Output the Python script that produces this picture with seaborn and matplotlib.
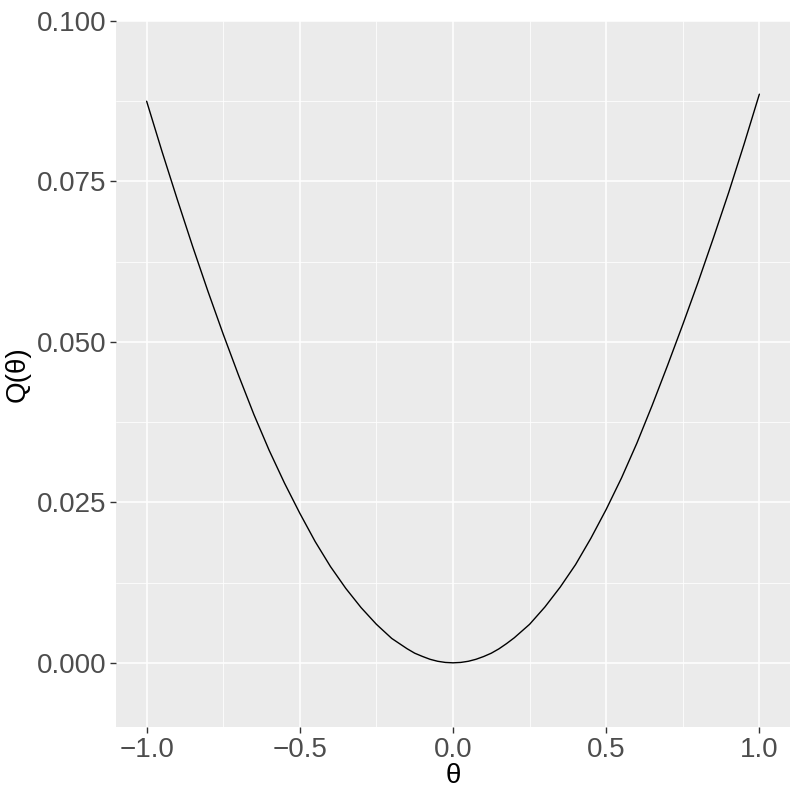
import matplotlib
matplotlib.use("Agg")
import matplotlib.pyplot as plt
import seaborn as sns
import pandas as pd
from matplotlib.ticker import FixedLocator

theta = [-1.0, -0.95, -0.9, -0.85, -0.8, -0.75, -0.7, -0.65, -0.6, -0.55, -0.5,
         -0.45, -0.4, -0.35, -0.3, -0.25, -0.2, -0.175, -0.15, -0.125, -0.1, -0.075,
         -0.05, -0.025, 0.0,
         0.025, 0.05, 0.075, 0.1, 0.125, 0.15, 0.175, 0.2, 0.25, 0.3, 0.35, 0.4, 0.45, 0.5,
         0.55, 0.6, 0.65, 0.7, 0.75, 0.8, 0.85, 0.9, 0.95, 1.0]
q_values = [0.0875, 0.0797, 0.0722, 0.0649, 0.0579, 0.0512, 0.0448, 0.0387, 0.0331, 0.0280, 0.0233,
            0.0189, 0.0150, 0.0116, 0.0086, 0.0060, 0.0038, 0.0030, 0.0022, 0.0015, 0.0010, 0.00055,
            0.00024, 0.00006, 0.0,
            0.00006, 0.00024, 0.00055, 0.00098, 0.0015, 0.00218, 0.0030, 0.0039, 0.0060, 0.0087,
            0.0118, 0.0153, 0.0194, 0.0239,
            0.0288, 0.0342, 0.0401, 0.0463, 0.0527, 0.0593, 0.0662, 0.0733, 0.0808, 0.0886]

x_ticks = [-1.0, -0.5, 0.0, 0.5, 1.0]
x_tick_labels = ["\u22121.0", "\u22120.5", "0.0", "0.5", "1.0"]
y_ticks = [0.0, 0.025, 0.05, 0.075, 0.1]
y_tick_labels = ["0.000", "0.025", "0.050", "0.075", "0.100"]

df = pd.DataFrame({"theta": theta, "Q": q_values})

sns.set_theme(style="darkgrid")
plt.rcParams["font.family"] = ["Liberation Sans", "DejaVu Sans"]

fig = plt.figure(figsize=(7.93, 7.93), dpi=100)
ax = fig.add_axes([116 / 793, 1 - 727 / 793, (790 - 116) / 793, (727 - 21) / 793])
ax.set_facecolor("#EBEBEB")

sns.lineplot(data=df, x="theta", y="Q", ax=ax, color="black", linewidth=1.0, sort=False)

ax.set_xlim(-1.1, 1.1)
ax.set_ylim(-0.01, 0.1)
ax.xaxis.set_major_locator(FixedLocator(x_ticks))
ax.xaxis.set_minor_locator(FixedLocator([-0.75, -0.25, 0.25, 0.75]))
ax.yaxis.set_major_locator(FixedLocator(y_ticks))
ax.yaxis.set_minor_locator(FixedLocator([0.0125, 0.0375, 0.0625, 0.0875]))
ax.set_xticklabels(x_tick_labels)
ax.set_yticklabels(y_tick_labels)

ax.grid(which="major", color="white", linewidth=1.1)
ax.grid(which="minor", color="white", linewidth=0.55)
for s in ax.spines.values():
    s.set_visible(False)

ax.tick_params(axis="both", which="major", length=4, width=1, color="#333333",
               labelsize=20, labelcolor="#4D4D4D", pad=3, bottom=True, left=True)
ax.tick_params(axis="both", which="minor", length=0)

ax.set_xlabel("\u03b8", fontsize=20, color="black", labelpad=0)
ax.set_ylabel("Q(\u03b8)", fontsize=20, color="black", labelpad=4)

fig.savefig("out.png", dpi=100, facecolor="white")
